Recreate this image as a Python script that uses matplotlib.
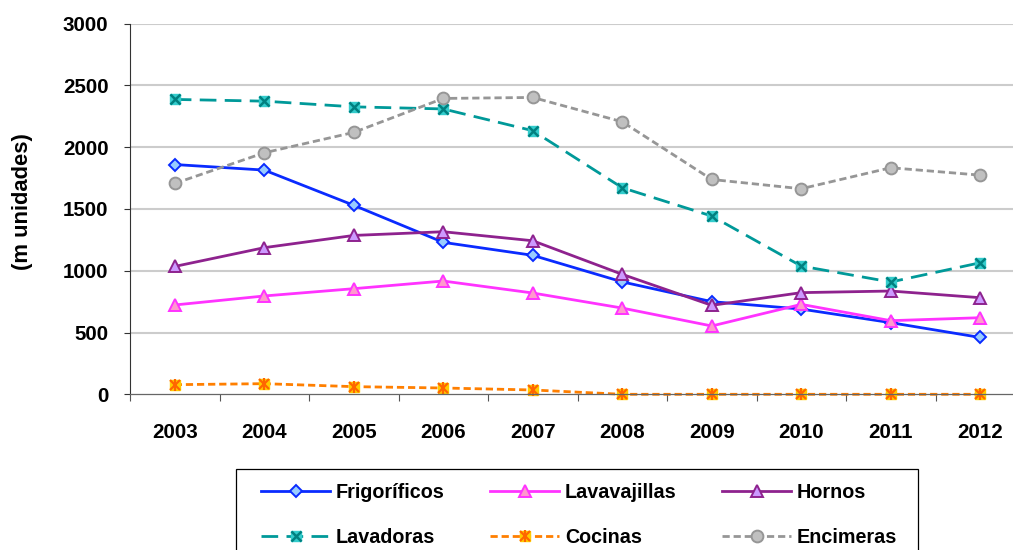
import matplotlib
matplotlib.use("Agg")
import matplotlib.pyplot as plt
from matplotlib.patches import Rectangle

plt.rcParams["font.family"] = ["Liberation Sans", "DejaVu Sans"]
plt.rcParams["font.weight"] = "bold"

YEARS = ["2003", "2004", "2005", "2006", "2007", "2008", "2009", "2010", "2011", "2012"]

FRIGORIFICOS = [1860, 1815, 1530, 1230, 1125, 910, 750, 690, 580, 460]
LAVAVAJILLAS = [723, 796, 855, 917, 820, 698, 553, 728, 596, 620]
HORNOS = [1035, 1187, 1286, 1316, 1243, 971, 720, 823, 836, 782]
LAVADORAS = [2387, 2373, 2327, 2310, 2134, 1672, 1443, 1038, 909, 1065]
COCINAS = [78, 86, 62, 51, 35, 0, 0, 0, 0, 0]
ENCIMERAS = [1707, 1955, 2120, 2395, 2403, 2206, 1739, 1664, 1834, 1774]

Y_TICKS = [0, 500, 1000, 1500, 2000, 2500, 3000]

W, H = 1013, 550
fig = plt.figure(figsize=(W / 100, H / 100), dpi=100)
fig.patch.set_facecolor("white")
ax = fig.add_axes([130 / W, 1 - 394.3 / H, 895 / W, 370.6 / H])

x = list(range(len(YEARS)))
FS = 14.8

ax.set_xlim(-0.5, len(YEARS) - 0.5)
ax.set_ylim(0, 3000)
ax.set_yticks(Y_TICKS)
ax.set_yticklabels([str(v) for v in Y_TICKS], fontsize=FS, fontweight="bold")
ax.set_xticks([i + 0.5 for i in range(-1, len(YEARS))])
ax.set_xticklabels([])
ax.set_xticks(x, minor=True)
ax.set_xticklabels(YEARS, minor=True, fontsize=FS, fontweight="bold")
ax.tick_params(axis="x", which="major", length=5, width=0.8, color="#555555", direction="out")
ax.tick_params(axis="x", which="minor", length=0, pad=21)
ax.tick_params(axis="y", length=4.5, width=0.8, color="#333333", direction="out", pad=11)

for y in Y_TICKS[1:]:
    ax.axhline(y, color="#cccccc", lw=1.5, zorder=0)

for side in ("top", "right"):
    ax.spines[side].set_visible(False)
ax.spines["left"].set_color("#333333")
ax.spines["left"].set_linewidth(0.8)
ax.spines["bottom"].set_color("#666666")
ax.spines["bottom"].set_linewidth(0.9)

ax.set_ylabel("(m unidades)", fontsize=15.8, fontweight="bold", labelpad=0)
ax.yaxis.set_label_coords(-97 / 895, 0.52)

lw = 2.0
h_frig, = ax.plot(x, FRIGORIFICOS, color="#0a2bff", lw=lw, marker="D", ms=6.5,
                  mfc="#99ccff", mec="#0a2bff", mew=1.4, clip_on=False)
h_lava, = ax.plot(x, LAVAVAJILLAS, color="#ff33ff", lw=lw, marker="^", ms=9,
                  mfc="#ff99cc", mec="#ff33ff", mew=1.4, clip_on=False)
h_horn, = ax.plot(x, HORNOS, color="#8e228e", lw=lw, marker="^", ms=9,
                  mfc="#cc99ff", mec="#8e228e", mew=1.4, clip_on=False)
h_lavd, = ax.plot(x, LAVADORAS, color="#009999", lw=lw, ls=(0, (6, 3)), marker="s", ms=7.5,
                  mfc="#33cccc", mec="#33cccc", mew=1, clip_on=False)
h_lavd_x, = ax.plot(x, LAVADORAS, ls="none", marker="x", ms=7, mec="#008080", mew=1.8, clip_on=False)
h_coc, = ax.plot(x, COCINAS, color="#ff7f00", lw=lw, ls=(0, (2.6, 1.4)), marker="s", ms=7.5,
                 mfc="#ffcc00", mec="#ffcc00", mew=1, clip_on=False)
h_coc_x, = ax.plot(x, COCINAS, ls="none", marker="x", ms=7, mec="#ff6600", mew=1.6, clip_on=False)
h_coc_v, = ax.plot(x, COCINAS, ls="none", marker="|", ms=8, mec="#ff6600", mew=1.6, clip_on=False)
h_enc, = ax.plot(x, ENCIMERAS, color="#969696", lw=lw, ls=(0, (2.6, 1.4)), marker="o", ms=8.5,
                 mfc="#c0c0c0", mec="#969696", mew=1.4, clip_on=False)

# legend frame drawn by hand, it runs off the bottom of the image
fig.patches.append(Rectangle((235.7 / W, -0.05), (918 - 235.7) / W, 0.05 + 1 - 469.3 / H,
                             transform=fig.transFigure, fill=False, ec="black", lw=0.9))

# matplotlib fills legend columns first, so order entries column by column
handles = [h_frig, (h_lavd, h_lavd_x), h_lava, (h_coc, h_coc_x, h_coc_v), h_horn, h_enc]
labels = ["Frigoríficos", "Lavadoras", "Lavavajillas", "Cocinas", "Hornos", "Encimeras"]
fig.legend(handles, labels, loc="upper left", bbox_to_anchor=(261 / W, 1 - 483 / H),
           ncol=3, frameon=False, borderpad=0, borderaxespad=0,
           handlelength=3.5, handletextpad=0.3, columnspacing=2.3, labelspacing=1.3,
           prop={"size": 14.2, "weight": "bold"})

fig.savefig("out.png", dpi=100, facecolor="white")
